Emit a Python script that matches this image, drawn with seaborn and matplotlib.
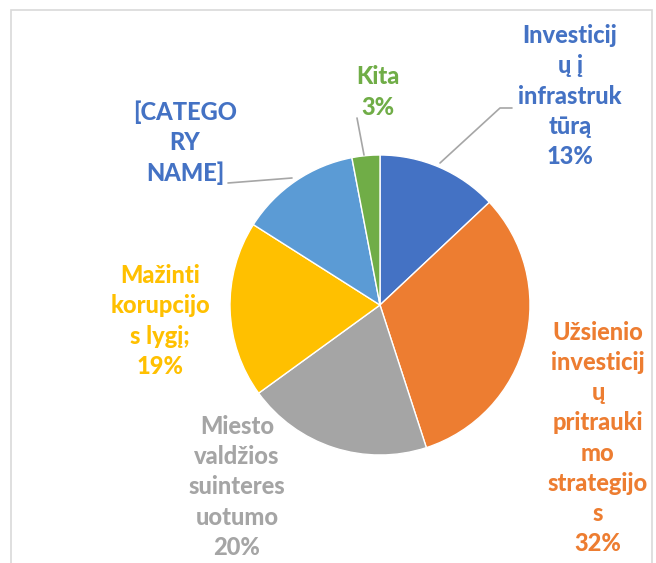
import matplotlib.pyplot as plt
import seaborn as sns
from matplotlib.patches import Rectangle

sns.set_style('white')
plt.rcParams['font.family'] = ['Lato', 'DejaVu Sans']

# data
categories = ['Investicijų į infrastruktūrą', 'Užsienio investicijų pritraukimo strategijos',
              'Miesto valdžios suinteresuotumo', 'Mažinti korupcijos lygį;',
              '[CATEGORY NAME]', 'Kita']
values = [13, 32, 20, 19, 13, 3]
wrapped = ['Investicij\nų į\ninfrastruk\ntūrą',
           'Užsienio\ninvesticij\nų\npritrauki\nmo\nstrategijo\ns',
           'Miesto\nvaldžios\nsuinteres\nuotumo',
           'Mažinti\nkorupcijo\ns lygį;',
           '[CATEGO\nRY\nNAME]',
           'Kita']
show_pct = [True, True, True, True, False, True]
colors = ['#4472C4', '#ED7D31', '#A5A5A5', '#FFC000', '#5B9BD5', '#70AD47']
label_colors = ['#4472C4', '#ED7D31', '#A5A5A5', '#FFC000', '#4472C4', '#70AD47']

W, H = 656, 563
fig = plt.figure(figsize=(W / 100, H / 100), dpi=100)
ax = fig.add_axes([0, 0, 1, 1])

ax.pie(values, colors=colors, startangle=90, counterclock=False,
       center=(380, H - 305), radius=150, frame=True,
       wedgeprops=dict(edgecolor='white', linewidth=1))
ax.set_xlim(0, W)
ax.set_ylim(0, H)
ax.axis('off')
ax.set_aspect('equal')

# label positions (pixels from top-left)
label_pos = [(570, 96), (598, 438), (237, 487), (160, 321), (185, 143), (378, 92)]
for name, v, show, c, (x, y) in zip(wrapped, values, show_pct, label_colors, label_pos):
    txt = name + ('\n%d%%' % v if show else '')
    ax.text(x, H - y, txt, ha='center', va='center', color=c, fontsize=17,
            fontweight=900, linespacing=1.38)

# leader lines
lc = '#A6A6A6'
ax.plot([440, 500, 512], [H - 163, H - 108, H - 108], color=lc, lw=1.2)
ax.plot([364, 357], [H - 155, H - 118], color=lc, lw=1.2)
ax.plot([292, 228], [H - 178, H - 183], color=lc, lw=1.2)

# chart border
ax.add_patch(Rectangle((11, -20), 641, H - 10 + 20, fill=False,
                       edgecolor='#D9D9D9', lw=1.2, clip_on=False))

fig.savefig('out.png', dpi=100)
